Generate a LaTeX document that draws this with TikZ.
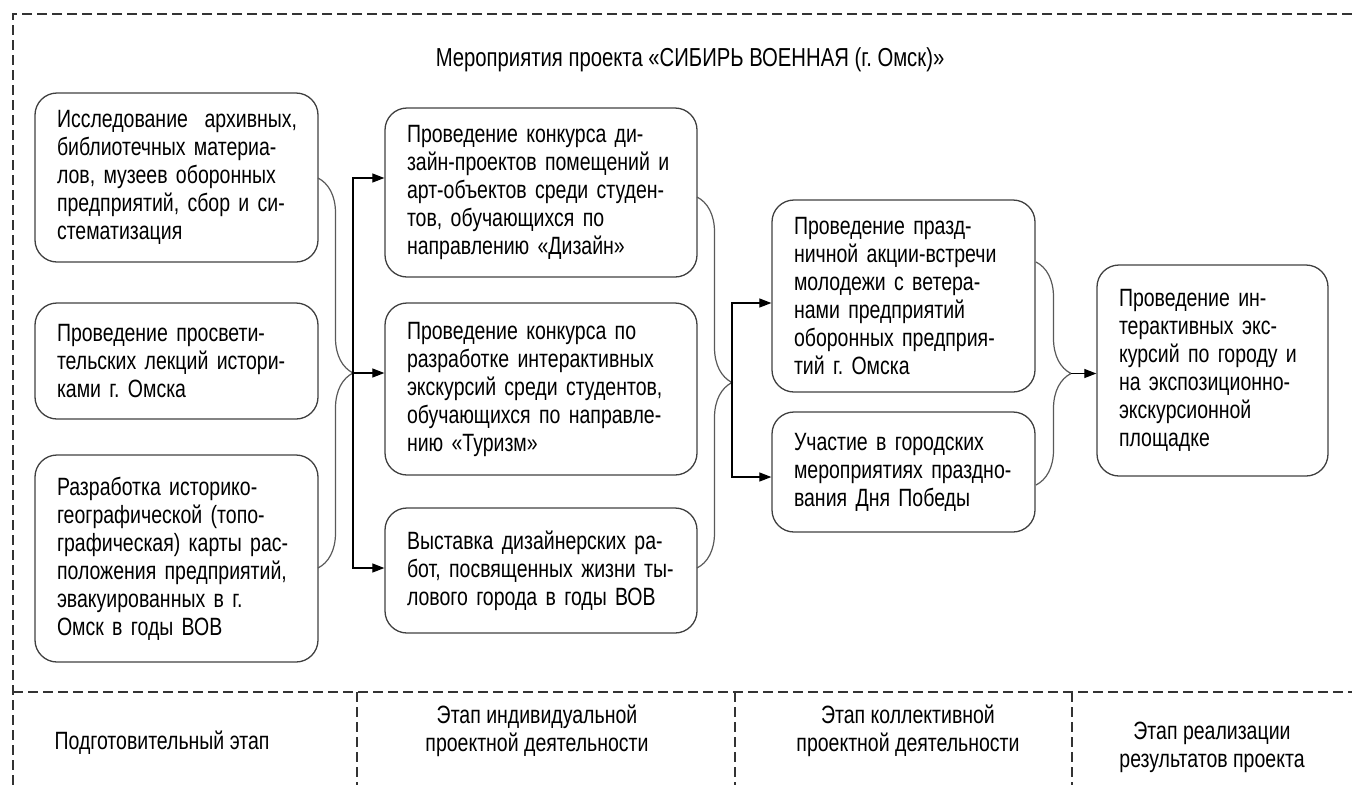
\documentclass[tikz,border=0pt]{standalone}
\usepackage{fontspec}
\setmainfont{Liberation Sans}[FakeStretch=0.78]
\usetikzlibrary{arrows.meta,decorations.pathreplacing}
\frenchspacing

\tikzset{
  box/.style={draw=black!75, line width=1.3pt, rounded corners=22pt, align=left,
    inner xsep=22pt, inner ysep=0pt, font=\fontsize{25}{28}\selectfont},
  brc/.style={draw=black!65, line width=1.2pt, decorate,
    decoration={brace, amplitude=35pt}},
  arr/.style={line width=1.2pt, -{Triangle[length=12pt,width=9pt]}},
  sep/.style={draw=black!80, line width=1.3pt, dash pattern=on 10pt off 5pt},
  lbl/.style={align=center, font=\fontsize{25}{28}\selectfont},
}

\begin{document}
\begin{tikzpicture}[x=1pt,y=-1pt]
\useasboundingbox (0,0) rectangle (1352,785);
%\draw[color=black!20,step=50] (0,0) grid (1352,785);

% frame
\draw[sep] (1352,14) -- (13,14) -- (13,785);
\draw[sep] (13,692) -- (1352,692);
\draw[sep] (357,692) -- (357,785);
\draw[sep] (735,692) -- (735,785);
\draw[sep] (1072,692) -- (1072,785);

\node[lbl, font=\fontsize{26}{28}\selectfont] (title) at (690,60) {Мероприятия проекта «СИБИРЬ ВОЕННАЯ (г. Омск)»};

% preparation
\node[box, text width=239pt, minimum height=169pt] (A) at (176.5,177.5)
  {Исследование~ архивных,\\ библиотечных материа-\\ лов, музеев оборонных\\ предприятий, сбор и си-\\ стематизация};
\node[box, text width=239pt, minimum height=116pt] (B) at (176.5,361)
  {Проведение просвети-\\ тельских лекций истори-\\ ками г. Омска};
\node[box, text width=239pt, minimum height=207pt] (C) at (176.5,558.5)
  {Разработка историко-\\ географической (топо-\\ графическая) карты рас-\\ положения предприятий,\\ эвакуированных в г.\\ Омск в годы ВОВ};

% individual stage
\node[box, text width=268pt, minimum height=169pt] (D) at (541,192.5)
  {Проведение конкурса ди-\\ зайн-проектов помещений и\\ арт-объектов среди студен-\\ тов, обучающихся по\\ направлению «Дизайн»};
\node[box, text width=268pt, minimum height=172pt] (E) at (541,389)
  {Проведение конкурса по\\ разработке интерактивных\\ экскурсий среди студентов,\\ обучающихся по направле-\\ нию «Туризм»};
\node[box, text width=268pt, minimum height=125pt] (F) at (541,570.5)
  {Выставка дизайнерских ра-\\ бот, посвященных жизни ты-\\ лового города в годы ВОВ};

% collective stage
\node[box, text width=219pt, minimum height=192pt] (G) at (903.5,296)
  {Проведение празд-\\ ничной акции-встречи\\ молодежи с ветера-\\ нами предприятий\\ оборонных предприя-\\ тий г. Омска};
\node[box, text width=219pt, minimum height=120pt] (H) at (903.5,472)
  {Участие в городских\\ мероприятиях праздно-\\ вания Дня Победы};

% results
\node[box, text width=187pt, minimum height=211pt] (I) at (1212.5,370.5)
  {Проведение ин-\\ терактивных экс-\\ курсий по городу и\\ на экспозиционно-\\ экскурсионной\\ площадке};

% braces and arrows
\coordinate (b1s) at (318,178);
\coordinate (b1e) at (318,568);
\coordinate (k1) at (353,373);
\draw[brc] (b1s) -- (b1e);
\draw[arr] (k1) |- (D.west |- b1s);
\draw[arr] (k1) -- (k1 -| E.west);
\draw[arr] (k1) |- (F.west |- b1e);

\coordinate (b2s) at (697,197);
\coordinate (b2e) at (697,568);
\coordinate (k2) at (732,382.5);
\coordinate (g2) at (732,303);
\coordinate (h2) at (732,477);
\draw[brc] (b2s) -- (b2e);
\draw[arr] (k2) -- (g2) -- (g2 -| G.west);
\draw[arr] (k2) -- (h2) -- (h2 -| H.west);

\coordinate (b3s) at (1036,262);
\coordinate (b3e) at (1036,485);
\coordinate (k3) at (1071,373.5);
\draw[brc] (b3s) -- (b3e);
\draw[arr] (k3) -- (k3 -| I.west);

% stages
\node[lbl] (st1) at (162,743) {Подготовительный этап};
\node[lbl] (st2) at (537,731) {Этап индивидуальной\\ проектной деятельности};
\node[lbl] (st3) at (908,731) {Этап коллективной\\ проектной деятельности};
\node[lbl] (st4) at (1212,747) {Этап реализации\\ результатов проекта};
\end{tikzpicture}
\end{document}
